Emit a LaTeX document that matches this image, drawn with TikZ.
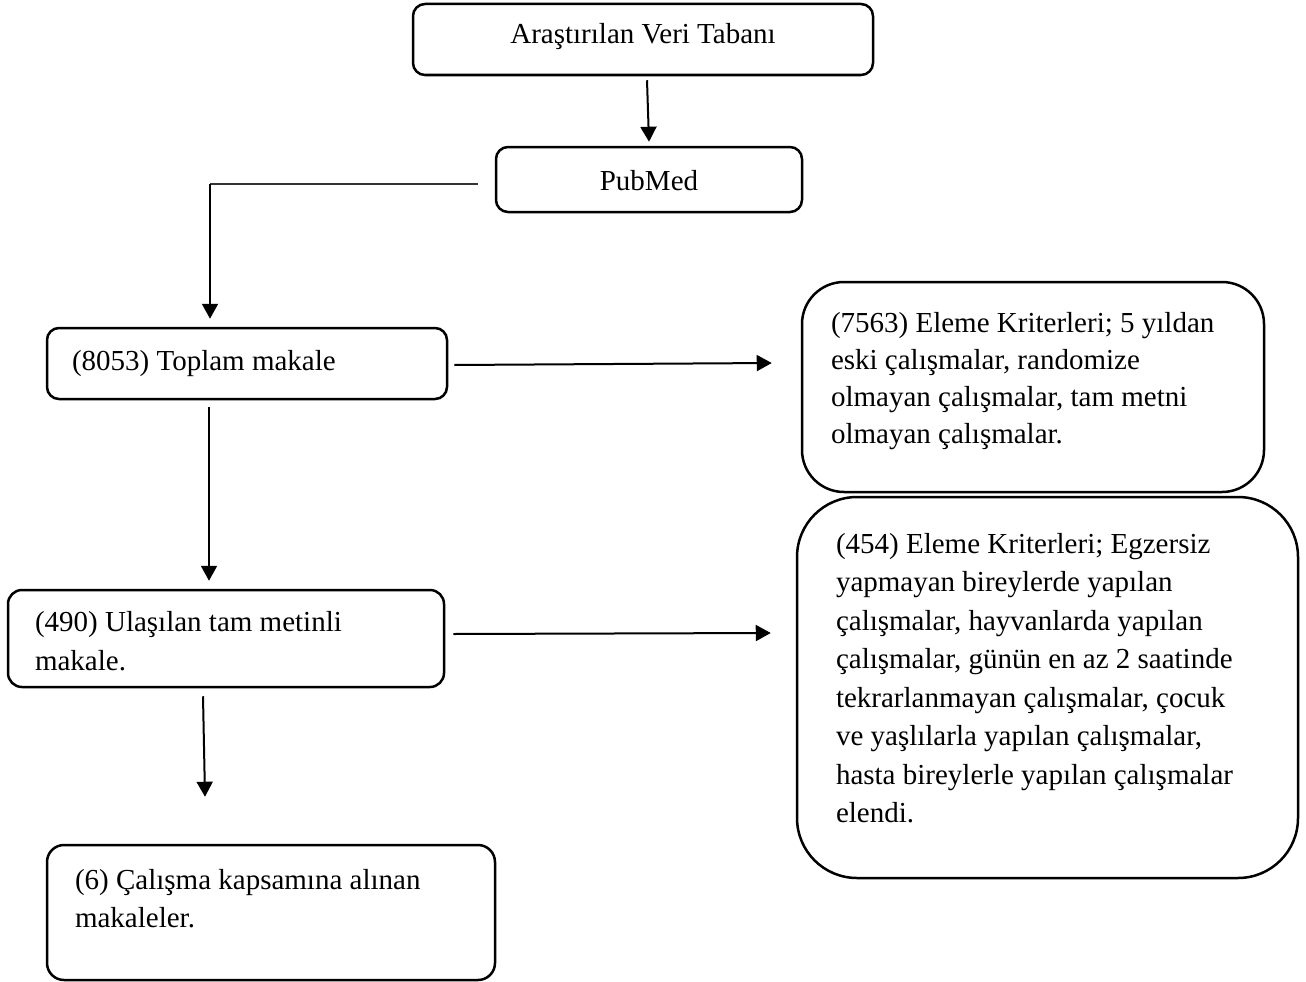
\documentclass[tikz,border=0pt]{standalone}
\usepackage{fontspec}
\setmainfont{Liberation Serif}
\usetikzlibrary{arrows.meta}
\begin{document}
\begin{tikzpicture}[x=1pt,y=-1pt,
  box/.style={draw=black,line width=2.5pt,rectangle,inner sep=0pt,fill=none},
  txt/.style={inner sep=0pt,outer sep=0pt,font=\fontsize{29}{38}\selectfont},
  arr/.style={line width=2pt,-{Triangle[length=15pt,width=16pt]}},
  thinline/.style={line width=1.3pt,draw=black!80}]
\useasboundingbox (0,0) rectangle (1306,982);
\fill[white] (0,0) rectangle (1306,982);
% boxes
\node[box,rounded corners=12pt,minimum width=460pt,minimum height=71pt] (b1) at (643,39.5) {};
\node[box,rounded corners=12pt,minimum width=306pt,minimum height=65pt] (b2) at (649,179.5) {};
\node[box,rounded corners=12pt,minimum width=400pt,minimum height=71pt] (b3) at (247,363.5) {};
\node[box,rounded corners=42pt,minimum width=462pt,minimum height=210pt] (b4) at (1033,387) {};
\node[box,rounded corners=14pt,minimum width=436pt,minimum height=97pt] (b5) at (226,638.5) {};
\node[box,rounded corners=60pt,minimum width=501pt,minimum height=381pt] (b6) at (1047.5,687.5) {};
\node[box,rounded corners=17pt,minimum width=448pt,minimum height=135pt] (b7) at (271,912.5) {};
% texts
\node[txt,anchor=base] (t1) at (643,44) {Araştırılan Veri Tabanı};
\node[txt,anchor=base] (t2) at (649,190) {PubMed};
\node[txt,anchor=base west] (t3) at (72,370) {(8053) Toplam makale};
\node[txt,anchor=base west] (t4) at (831,332) {\parbox[t]{440pt}{\fontsize{29}{37}\selectfont
(7563) Eleme Kriterleri; 5 yıldan\\
eski çalışmalar, randomize\\
olmayan çalışmalar, tam metni\\
olmayan çalışmalar.}};
\node[txt,anchor=base west] (t5) at (35,631) {\parbox[t]{400pt}{\fontsize{29}{39}\selectfont
(490) Ulaşılan tam metinli\\
makale.}};
\node[txt,anchor=base west] (t6) at (836,553) {\parbox[t]{460pt}{\fontsize{29}{38.5}\selectfont
(454) Eleme Kriterleri; Egzersiz\\
yapmayan bireylerde yapılan\\
çalışmalar, hayvanlarda yapılan\\
çalışmalar, günün en az 2 saatinde\\
tekrarlanmayan çalışmalar, çocuk\\
ve yaşlılarla yapılan çalışmalar,\\
hasta bireylerle yapılan çalışmalar\\
elendi.}};
\node[txt,anchor=base west] (t7) at (75,889) {\parbox[t]{410pt}{\fontsize{29}{38}\selectfont
(6) Çalışma kapsamına alınan\\
makaleler.}};
% connectors
\draw[arr] ([xshift=4pt,yshift=-4pt]b1.south) -- ([yshift=4pt]b2.north);
\coordinate (c1) at (210,184);
\draw[thinline] ([xshift=-17pt,yshift=-4.5pt]b2.west) -- (c1);
\draw[arr] (c1) -- ([xshift=-37pt,yshift=8pt]b3.north);
\draw[arr] ([xshift=6pt,yshift=-1.5pt]b3.east) -- ([xshift=-29pt,yshift=24pt]b4.west);
\draw[arr] ([xshift=-38pt,yshift=-7pt]b3.south) -- ([xshift=-17pt,yshift=8pt]b5.north);
\draw[arr] ([xshift=8pt,yshift=4.5pt]b5.east) -- ([xshift=-25pt,yshift=54.5pt]b6.west);
\draw[arr] ([xshift=-23pt,yshift=-8pt]b5.south) -- ([xshift=-66pt,yshift=47pt]b7.north);
\end{tikzpicture}
\end{document}
